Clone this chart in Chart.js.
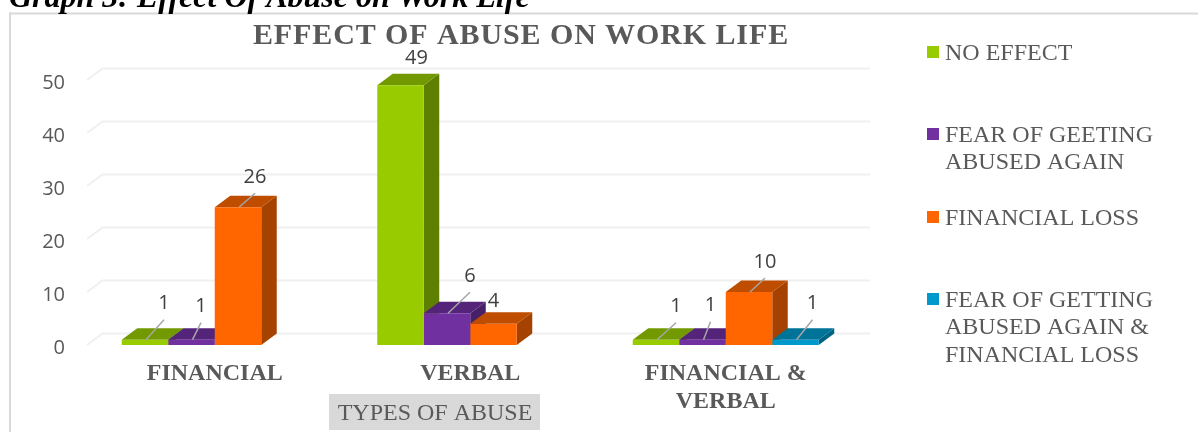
<!DOCTYPE html>
<html>
<head>
<meta charset="utf-8">
<style>html,body{margin:0;padding:0;background:#fff;overflow:hidden}canvas{display:block}</style>
<script src="https://cdn.jsdelivr.net/npm/chart.js@4/dist/chart.umd.min.js"></script>
</head>
<body>
<canvas id="c" width="1198" height="432"></canvas>
<script>
const categories = ["FINANCIAL", "VERBAL", ["FINANCIAL &", "VERBAL"]];
const noEffect = [1, 49, 1];
const fearAgain = [1, 6, 1];
const financialLoss = [26, 4, 10];
const fearAndLoss = [null, null, 1];
const yTicks = [0, 10, 20, 30, 40, 50];
const seriesNames = ["NO EFFECT", "FEAR OF GEETING ABUSED AGAIN", "FINANCIAL LOSS", "FEAR OF GETTING ABUSED AGAIN & FINANCIAL LOSS"];
const headingText = "Graph 3: Effect Of Abuse on Work Life";
const titleText = "EFFECT OF ABUSE ON WORK LIFE";
const axisTitleText = "TYPES OF ABUSE";

const legendLines = [["NO EFFECT"], ["FEAR OF GEETING", "ABUSED AGAIN"], ["FINANCIAL LOSS"], ["FEAR OF GETTING", "ABUSED AGAIN &", "FINANCIAL LOSS"]];
const legendTop = [52, 134, 217, 299];
const faces = [
  {front:"#99CC00", top:"#739900", side:"#5F7F00"},
  {front:"#7030A0", top:"#54247A", side:"#482068"},
  {front:"#FF6600", top:"#BF4D00", side:"#A64200"},
  {front:"#0099CC", top:"#007399", side:"#006384"}
];
const DX = 15.5, DY = 11.5;
// label offsets from the top-centre of each bar: [series][category] = [labelDx, labelDy, hasLeader]
const labelPlace = [
  [[19,-37,1],[16,-28,0],[20,-34,1]],
  [[9.5,-34,1],[23,-38,1],[8,-35,1]],
  [[17,-31,1],[0,-24,0],[16,-31,1]],
  [null,null,[17,-37,1]]
];
const serif = '"Liberation Serif", serif';

const threeD = {
  id: "threeD",
  beforeDraw(chart) {
    const ctx = chart.ctx, y = chart.scales.y, area = chart.chartArea;
    ctx.save();
    ctx.fillStyle = "#fff"; ctx.fillRect(0,0,chart.width,chart.height);
    // frame
    ctx.fillStyle = "#D9D9D9";
    ctx.fillRect(9,12.5,1189,2); ctx.fillRect(9,12.5,2,420);
    // heading
    ctx.fillStyle = "#000"; ctx.font = 'italic bold 32px '+serif;
    ctx.textAlign = "left"; ctx.textBaseline = "alphabetic";
    ctx.fillText(headingText, 9, 7);
    // title
    ctx.fillStyle = "#595959"; ctx.font = 'bold 30px '+serif; ctx.textAlign = "center";
    ctx.letterSpacing = "0.9px";
    ctx.fillText(titleText, 521, 44);
    ctx.letterSpacing = "0px";
    // walls
    ctx.strokeStyle = "#F0F0F0"; ctx.lineWidth = 2;
    yTicks.forEach(t => {
      const p = y.getPixelForValue(t);
      ctx.beginPath(); ctx.moveTo(area.left,p); ctx.lineTo(area.left+DX,p-DY); ctx.lineTo(870,p-DY); ctx.stroke();
    });
    // axis title
    ctx.fillStyle = "#D9D9D9"; ctx.fillRect(329,394,211,36);
    ctx.fillStyle = "#595959"; ctx.font = '24px '+serif; ctx.textBaseline = "middle";
    ctx.fillText(axisTitleText, 435, 413.5);
    // legend
    ctx.textAlign = "left"; ctx.font = '24px '+serif;
    legendLines.forEach((lines,i) => {
      ctx.fillStyle = faces[i].front;
      ctx.fillRect(927, legendTop[i]-6, 12, 12);
      ctx.fillStyle = "#595959";
      lines.forEach((l,j) => ctx.fillText(l, 945, legendTop[i] + 1.5 + j*27.7));
    });
    ctx.restore();
  },
  beforeDatasetsDraw(chart) {
    const ctx = chart.ctx;
    ctx.save();
    categories.forEach((_,c) => {
      chart.data.datasets.forEach((ds,s) => {
        const b = chart.getDatasetMeta(s).data[c];
        if (ds.data[c] == null) return;
        const w = b.width/2, l = b.x-w, r = b.x+w, t = b.y, bt = b.base;
        ctx.fillStyle = faces[s].side;
        ctx.beginPath(); ctx.moveTo(r,t); ctx.lineTo(r+DX,t-DY); ctx.lineTo(r+DX,bt-DY); ctx.lineTo(r,bt); ctx.closePath(); ctx.fill();
        ctx.fillStyle = faces[s].top;
        ctx.beginPath(); ctx.moveTo(l,t); ctx.lineTo(l+DX,t-DY); ctx.lineTo(r+DX,t-DY); ctx.lineTo(r,t); ctx.closePath(); ctx.fill();
      });
    });
    ctx.restore();
  },
  afterDatasetsDraw(chart) {
    const ctx = chart.ctx;
    ctx.save();
    ctx.textAlign = "center"; ctx.textBaseline = "middle";
    ctx.font = '20px "Open Sans", sans-serif';
    chart.data.datasets.forEach((ds,s) => {
      ds.data.forEach((v,c) => {
        if (v == null) return;
        const b = chart.getDatasetMeta(s).data[c];
        const [dx,dy,lead] = labelPlace[s][c];
        if (lead) {
          ctx.strokeStyle = "#A6A6A6"; ctx.lineWidth = 1.5;
          ctx.beginPath(); ctx.moveTo(b.x+1,b.y); ctx.lineTo(b.x+dx,b.y+dy+17); ctx.stroke();
        }
        ctx.fillStyle = "#404040";
        ctx.fillText(String(v), b.x+dx, b.y+dy+1);
      });
    });
    ctx.restore();
  }
};

new Chart(document.getElementById("c").getContext("2d"), {
  type: "bar",
  data: {
    labels: categories,
    datasets: [noEffect, fearAgain, financialLoss, fearAndLoss].map((d,i) => ({
      label: seriesNames[i], data: d, backgroundColor: faces[i].front, borderWidth: 0,
      barPercentage: 1, categoryPercentage: 186/255.5
    }))
  },
  plugins: [threeD],
  options: {
    responsive: false, animation: false,
    layout: {padding: {top: 80, right: 344.5, left: 0, bottom: 0}},
    plugins: {legend: {display:false}, title: {display:false}, tooltip: {enabled:false}},
    scales: {
      x: {
        grid: {display:false, drawTicks:false}, border: {display:false},
        ticks: {color:"#595959", font:{family:"Liberation Serif", size:24, weight:"bold", lineHeight:1.16}, padding:15, maxRotation:0, autoSkip:false},
        afterFit(s){ s.height = 87; }
      },
      y: {
        min: 0, max: 50,
        grid: {display:false, drawTicks:false}, border: {display:false},
        afterBuildTicks(s){ s.ticks = yTicks.map(v => ({value:v})); },
        ticks: {color:"#595959", font:{family:"Open Sans", size:20}, padding:22, labelOffset:3.5},
        afterFit(s){ s.width = 87; }
      }
    }
  }
});
</script>
</body>
</html>
